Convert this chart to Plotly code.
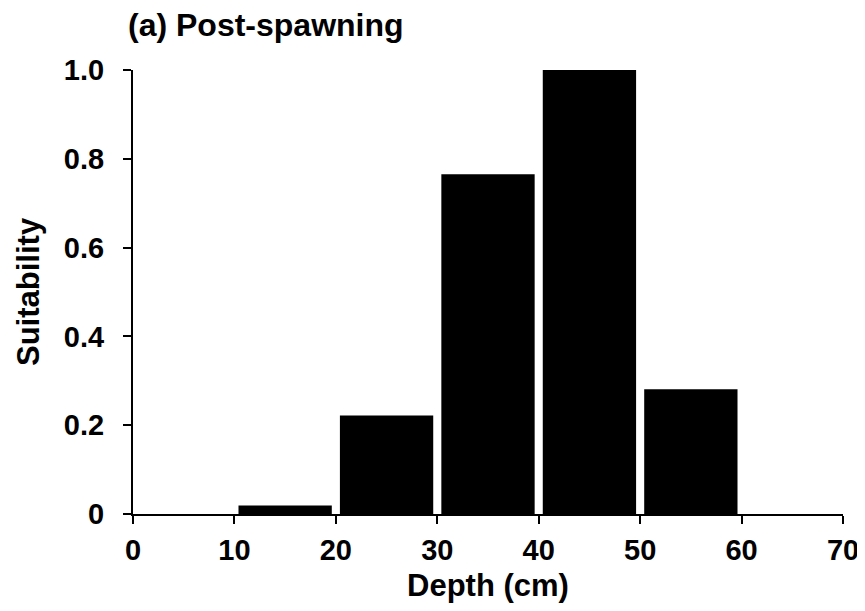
import plotly.graph_objects as go

depth_centers = [15, 25, 35, 45, 55]
suitability = [0.019, 0.222, 0.765, 1.0, 0.281]
x_ticks = [0, 10, 20, 30, 40, 50, 60, 70]
y_ticks = [0, 0.2, 0.4, 0.6, 0.8, 1.0]
y_tick_labels = ["0", "0.2", "0.4", "0.6", "0.8", "1.0"]

FONT = "Liberation Sans, Arial, sans-serif"

def f(size=29):
    return dict(family=FONT, size=size, color="black", weight="bold")

W, H = 857, 603  # page body has an 8px default margin

fig = go.Figure()
fig.add_trace(go.Bar(
    x=depth_centers, y=suitability, width=9.2,
    marker=dict(color="black", line=dict(width=0)),
))

fig.update_layout(
    width=W, height=H,
    paper_bgcolor="white", plot_bgcolor="white",
    margin=dict(l=125, r=22, t=62, b=97, autoexpand=False),
    showlegend=False,
    font=f(),
    title=dict(text="(a) Post-spawning", x=120/W, xanchor="left", xref="container",
               y=1 - 17/H, yanchor="middle", yref="container", font=f(32)),
)
fig.add_annotation(
    text="Suitability", textangle=-90, xref="paper", yref="paper",
    x=0, y=0.5, xanchor="center", yanchor="middle", xshift=-105,
    showarrow=False, font=f(31),
)
fig.update_xaxes(
    range=[0, 70], tickvals=x_ticks, ticks="outside", ticklen=8, tickwidth=2,
    tickcolor="black", showline=True, linecolor="black", linewidth=2,
    showgrid=False, zeroline=False, automargin=False, ticklabelstandoff=1,
    tickfont=f(),
    title=dict(text="Depth (cm)", standoff=10, font=f(31)),
)
fig.update_yaxes(
    range=[0, 1.0], tickvals=y_ticks, ticktext=y_tick_labels, ticks="outside",
    ticklen=8, tickwidth=2, tickcolor="black", showline=True, linecolor="black",
    linewidth=2, showgrid=False, zeroline=False, automargin=False,
    ticklabelstandoff=13, tickfont=f(),
)

fig.write_html("out.html")
